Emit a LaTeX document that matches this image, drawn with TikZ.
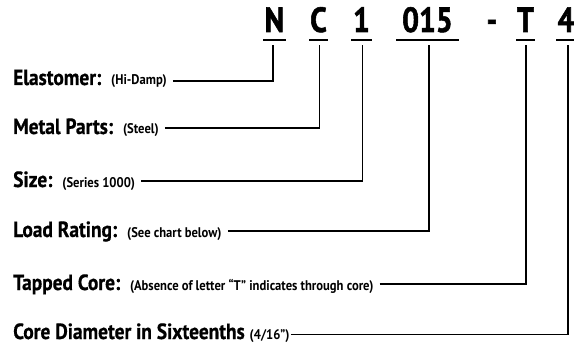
\documentclass[tikz,border=0pt]{standalone}
\usepackage{fontspec}
\usetikzlibrary{calc}
\newfontfamily\cond[FakeStretch=0.9]{PT Sans}
\newfontfamily\condbold[FakeStretch=0.88,FakeBold=0.6]{PT Sans}
\newfontfamily\condheavy[FakeStretch=0.85,FakeBold=1.5]{PT Sans}
\tikzset{
  lbl/.style={anchor=base west, inner sep=0pt, font=\condbold\bfseries\fontsize{22}{24}\selectfont},
  code/.style={anchor=base, inner sep=0pt, font=\condheavy\bfseries\fontsize{35}{38}\selectfont},
  conn/.style={line width=1.8pt, line join=miter},
  uline/.style={line width=2pt},
}
\newcommand{\paren}[1]{{\cond\bfseries\fontsize{14}{16}\selectfont #1}}
\begin{document}
\begin{tikzpicture}[x=1pt,y=-1pt]
\useasboundingbox (0,0) rectangle (574,345);
% code characters
\node[code] (cN) at (274.5,32) {N};
\node[code] (cC) at (318.5,32) {C};
\node[code] (c1) at (361.5,32) {1};
\node[code] (c015) at (427.5,32) {015};
\node[code] (cD) at (492,32) {-};
\node[code] (cT) at (525.5,32) {T};
\node[code] (c4) at (566,32) {4};
% underlines
\draw[uline] (263,40) -- (286,40);
\draw[uline] (309,40) -- (328,40);
\draw[uline] (351,40) -- (372,40);
\draw[uline] (396,40) -- (459,40);
\draw[uline] (516,40) -- (535,40);
\draw[uline] (556,40) -- (574,40);
% tick start coordinates
\coordinate (tN) at (273,45);
\coordinate (tC) at (319.5,45);
\coordinate (t1) at (362.5,45);
\coordinate (t015) at (429,45);
\coordinate (tT) at (526,45);
\coordinate (t4) at (568,45);
% line levels
\coordinate (yE) at (0,81);
\coordinate (yM) at (0,128);
\coordinate (yS) at (0,181);
\coordinate (yL) at (0,231);
\coordinate (yT) at (0,284);
\coordinate (yC) at (0,334.5);
% labels
\node[lbl] (lE) at (13,85) {Elastomer:\hspace{10pt}\paren{(Hi-Damp)}};
\node[lbl] (lM) at (13,134) {Metal Parts:\hspace{10pt}\paren{(Steel)}};
\node[lbl] (lS) at (13,187) {Size:\hspace{10pt}\paren{(Series 1000)}};
\node[lbl] (lL) at (13,237) {Load Rating:\hspace{10pt}\paren{(See chart below)}};
\node[lbl] (lT) at (13,290) {Tapped Core:\hspace{10pt}\paren{(Absence of letter “T” indicates through core)}};
\node[lbl] (lC) at (13,339) {Core Diameter in Sixteenths\hspace{5pt}\paren{(4/16”)}};
% connectors
\draw[conn] ($(lE.east |- yE)+(6,0)$) -| (tN);
\draw[conn] ($(lM.east |- yM)+(6,0)$) -| (tC);
\draw[conn] ($(lS.east |- yS)+(6,0)$) -| (t1);
\draw[conn] ($(lL.east |- yL)+(6,0)$) -| (t015);
\draw[conn] ($(lT.east |- yT)+(6,0)$) -| (tT);
\draw[conn] ($(lC.east |- yC)+(1,0)$) -| (t4);
\end{tikzpicture}
\end{document}
